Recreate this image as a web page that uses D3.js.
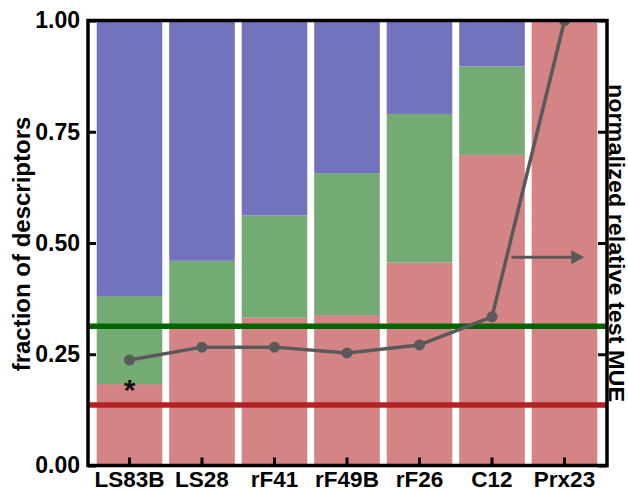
<!DOCTYPE html>
<html>
<head>
<meta charset="utf-8">
<script src="https://cdn.jsdelivr.net/npm/d3@7"></script>
<style>
html,body{margin:0;padding:0;background:#fff;}
svg{display:block;}
text{font-family:"Liberation Sans",Arial,Helvetica,sans-serif;}
</style>
</head>
<body>
<svg id="chart" width="628" height="492"></svg>
<script>
const categories = ["LS83B","LS28","rF41","rF49B","rF26","C12","Prx23"];
const redFrac   = [0.183, 0.310, 0.332, 0.338, 0.456, 0.698, 1.000];
const greenFrac = [0.198, 0.150, 0.230, 0.319, 0.334, 0.199, 0.000];
const blueFrac  = [0.619, 0.540, 0.438, 0.343, 0.210, 0.103, 0.000];
const mueValues = [0.237, 0.266, 0.266, 0.253, 0.271, 0.334, 1.000];
const refGreen = 0.313;
const refRed = 0.136;
const yTicks = [0, 0.25, 0.5, 0.75, 1.0];
const yTickLabels = ["0.00","0.25","0.50","0.75","1.00"];
const seriesNames = ["red","green","blue"];
const seriesColors = {red:"#d48484", green:"#74aa74", blue:"#7372bd"};

const svg = d3.select("#chart");
const frame = {left:88, right:607, top:20.5, bottom:465.5};

const x = d3.scaleBand().domain(categories).range([93.25, 600.75]).paddingInner(0.095).paddingOuter(0.0475);
const y = d3.scaleLinear().domain([0,1]).range([frame.bottom, frame.top]);

svg.append("defs").append("clipPath").attr("id","plotclip").append("rect")
  .attr("x",frame.left).attr("y",frame.top).attr("width",frame.right-frame.left).attr("height",frame.bottom-frame.top);

const table = categories.map((c,i)=>({cat:c, red:redFrac[i], green:greenFrac[i], blue:blueFrac[i]}));
const stacked = d3.stack().keys(seriesNames)(table);

svg.append("g").selectAll("g").data(stacked).join("g")
  .attr("fill", d=>seriesColors[d.key])
  .selectAll("rect").data(d=>d).join("rect")
  .attr("x", d=>x(d.data.cat))
  .attr("width", x.bandwidth())
  .attr("y", d=>y(d[1]))
  .attr("height", d=>Math.max(0, y(d[0])-y(d[1])));

// reference lines
svg.append("line").attr("x1",frame.left).attr("x2",frame.right)
  .attr("y1",y(refGreen)).attr("y2",y(refGreen))
  .attr("stroke","#036403").attr("stroke-width",5.5);
svg.append("line").attr("x1",frame.left).attr("x2",frame.right)
  .attr("y1",y(refRed)).attr("y2",y(refRed))
  .attr("stroke","#b22424").attr("stroke-width",5.5);

// MUE line
const gLine = svg.append("g").attr("clip-path","url(#plotclip)");
const line = d3.line().x((d,i)=>x(categories[i])+x.bandwidth()/2).y(d=>y(d));
gLine.append("path").datum(mueValues).attr("d",line)
  .attr("fill","none").attr("stroke","#595959").attr("stroke-width",3.5).attr("stroke-linejoin","round");
gLine.append("g").selectAll("circle").data(mueValues).join("circle")
  .attr("cx",(d,i)=>x(categories[i])+x.bandwidth()/2)
  .attr("cy",d=>y(d)).attr("r",5.5).attr("fill","#595959");

// asterisk
svg.append("text").attr("x", x("LS83B")+x.bandwidth()/2).attr("y", y(mueValues[0]) + 40)
  .attr("text-anchor","middle").attr("font-size",30).attr("font-weight","bold").attr("fill","#111").text("*");

// arrow annotation
const arrowY = y(0.468);
const ax1 = x("C12")+x.bandwidth()*0.8;
const ax2 = x("Prx23")+x.bandwidth()*0.8;
svg.append("line").attr("x1",ax1).attr("x2",ax2-10).attr("y1",arrowY).attr("y2",arrowY)
  .attr("stroke","#595959").attr("stroke-width",3);
svg.append("path").attr("d",`M${ax2},${arrowY} L${ax2-13},${arrowY-7} L${ax2-13},${arrowY+7} Z`).attr("fill","#595959");

// frame
svg.append("rect").attr("x",frame.left).attr("y",frame.top)
  .attr("width",frame.right-frame.left).attr("height",frame.bottom-frame.top)
  .attr("fill","none").attr("stroke","#000").attr("stroke-width",3.5);

// left axis
const yAxisL = d3.axisLeft(y).tickValues(yTicks).tickFormat((d,i)=>yTickLabels[i]).tickSizeInner(-8).tickSizeOuter(0).tickPadding(8);
const gL = svg.append("g").attr("transform",`translate(${frame.left},0)`).call(yAxisL);
gL.select(".domain").remove();
gL.selectAll(".tick line").attr("stroke","#000").attr("stroke-width",3);
gL.selectAll(".tick text").attr("font-size",23).attr("font-weight","bold").attr("fill","#000")
  .attr("font-family","'Liberation Sans',Arial,sans-serif");

// right axis ticks (no labels)
const yAxisR = d3.axisRight(y).tickValues(yTicks).tickFormat("").tickSizeInner(-9).tickSizeOuter(0);
const gR = svg.append("g").attr("transform",`translate(${frame.right},0)`).call(yAxisR);
gR.select(".domain").remove();
gR.selectAll(".tick line").attr("stroke","#000").attr("stroke-width",3);

// bottom axis
const xAxis = d3.axisBottom(x).tickSizeInner(-8).tickSizeOuter(0).tickPadding(12);
const gB = svg.append("g").attr("transform",`translate(0,${frame.bottom})`).call(xAxis);
gB.select(".domain").remove();
gB.selectAll(".tick line").attr("stroke","#000").attr("stroke-width",3);
gB.selectAll(".tick text").attr("font-size",22.5).attr("font-weight","bold").attr("fill","#000")
  .attr("dy",null).attr("y",21.5).attr("font-family","'Liberation Sans',Arial,sans-serif");

// axis titles
svg.append("text").attr("transform",`translate(30,${(frame.top+frame.bottom)/2+1}) rotate(-90)`)
  .attr("text-anchor","middle").attr("font-size",24).attr("font-weight","bold").attr("fill","#000")
  .text("fraction of descriptors");
svg.append("text").attr("transform",`translate(608.5,${(frame.top+frame.bottom)/2}) rotate(90)`)
  .attr("text-anchor","middle").attr("font-size",21.5).attr("font-weight","bold").attr("fill","#000")
  .attr("textLength",318).attr("lengthAdjust","spacingAndGlyphs")
  .text("normalized relative test MUE");
</script>
</body>
</html>
